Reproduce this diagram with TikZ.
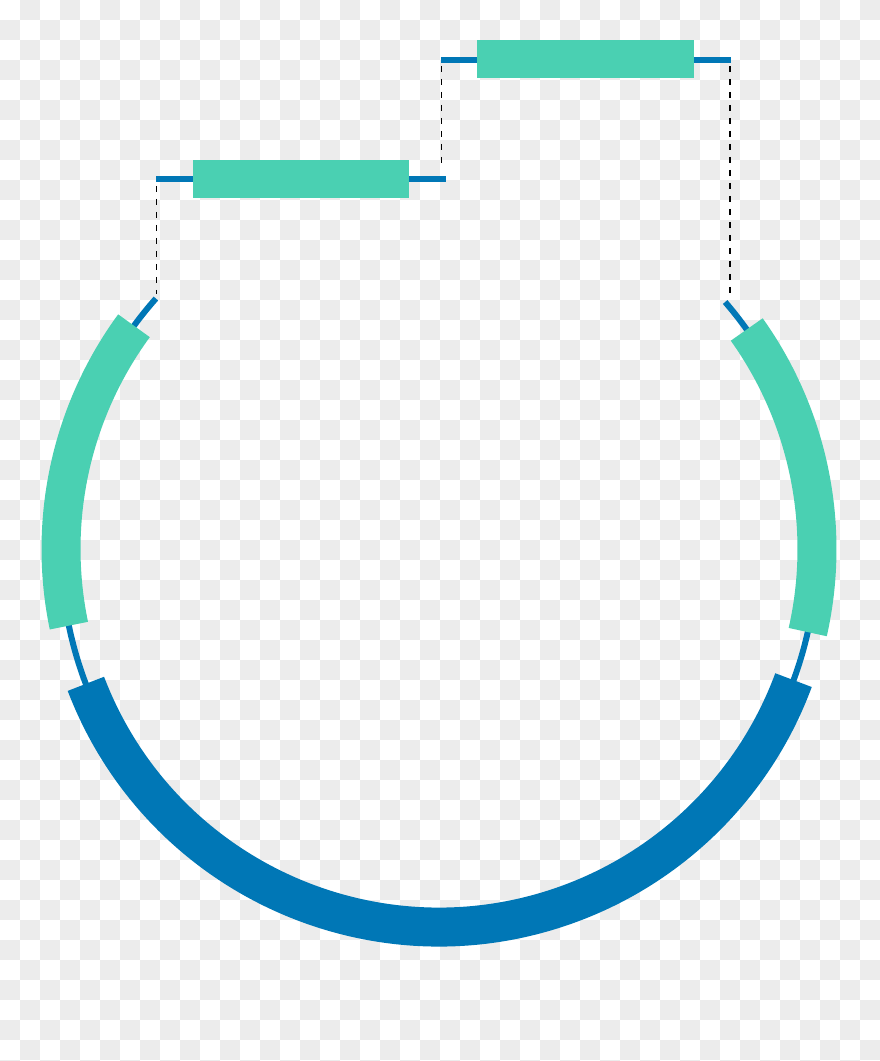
\documentclass[tikz,border=0pt]{standalone}
\usetikzlibrary{calc}
\definecolor{chk}{RGB}{236,236,236}
\definecolor{mint}{RGB}{74,208,178}
\definecolor{seablue}{RGB}{0,119,182}
\begin{document}
\begin{tikzpicture}[x=0.75pt,y=0.75pt,
  thinline/.style={seablue,line width=4.5pt,line cap=butt},
  band/.style={line width=29.25pt,line cap=butt},
  guide/.style={black,line width=1.1pt,dash pattern=on 4.5pt off 5.25pt}]
\useasboundingbox (0,0) rectangle (880,1061);
% checkerboard background
\fill[white] (0,0) rectangle (880,1061);
\begin{scope}
\clip (0,0) rectangle (880,1061);
\foreach \r in {0,...,53}{
  \foreach \c in {0,...,43}{
    \pgfmathtruncatemacro\t{\c+\r}
    \ifodd\t
      \fill[chk] (20*\c,1061-20*\r-20) rectangle (20*\c+20,1061-20*\r);
    \fi
  }
}
\end{scope}
% circle centre (439,549) in image coords -> (439,512)
\coordinate (O) at (439,512);
\def\R{378}
% thin backbone
\draw[thinline] ($(O)+(138.5:\R)$) arc[start angle=138.5,end angle=400.8,radius=\R];
% bands
\draw[band,mint] ($(O)+(143.8:\R)$) arc[start angle=143.8,end angle=191.7,radius=\R];
\draw[band,mint] ($(O)+(-12.7:\R)$) arc[start angle=-12.7,end angle=35.5,radius=\R];
\draw[band,seablue] ($(O)+(200.9:\R)$) arc[start angle=200.9,end angle=339.7,radius=\R];
% lower bar
\coordinate (la) at (156,1061-179.3);
\coordinate (lb) at (445.7,1061-179.3);
\draw[thinline] (la) -- (lb);
\fill[mint] (192.7,1061-198.3) rectangle (409.3,1061-160);
% upper bar
\coordinate (ua) at (441,1061-60);
\coordinate (ub) at (730.7,1061-60);
\draw[thinline] (ua) -- (ub);
\fill[mint] (476.7,1061-78) rectangle (694,1061-40);
% dashed guides
\draw[guide] (156.7,1061-186) -- (156.7,1061-294);
\draw[guide] (441.5,1061-66) -- (441.5,1061-166);
\draw[guide] (730,1061-66) -- (730,1061-294);
\end{tikzpicture}
\end{document}
